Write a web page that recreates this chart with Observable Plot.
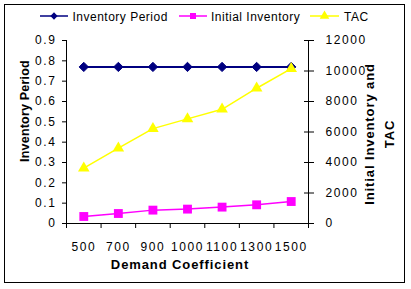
<!DOCTYPE html>
<html>
<head>
<meta charset="utf-8">
<script src="https://cdn.jsdelivr.net/npm/d3@7"></script>
<script src="https://cdn.jsdelivr.net/npm/@observablehq/plot@0.6"></script>
<style>
  html, body { margin: 0; padding: 0; background: #fff; }
  #wrap { position: relative; width: 411px; height: 289px; background: #fff; overflow: hidden;
          font-family: "Liberation Sans", Arial, sans-serif; }
  #border { position: absolute; left: 4px; top: 4px; width: 401px; height: 279px; box-sizing: border-box;
            border: 1px solid #000; }
  .layer { position: absolute; left: 0; top: 0; }
  .layer svg text { letter-spacing: 1.6px; }
  .over { position: absolute; left: 0; top: 0; pointer-events: none; }
</style>
</head>
<body>
<div id="wrap">
  <div id="border"></div>
  <div id="p1" class="layer"></div>
  <div id="p2" class="layer"></div>
  <svg class="over" width="411" height="289" id="over"></svg>
</div>
<script>
// ---- data ----
const categories = ["500", "700", "900", "1000", "1100", "1300", "1500"];
const inventoryPeriod = [0.77, 0.77, 0.77, 0.77, 0.77, 0.77, 0.77];
const initialInventory = [460, 655, 877, 943, 1074, 1225, 1441];
const tac = [3630, 4940, 6220, 6860, 7490, 8870, 10150];
const leftTicks = [0, 0.1, 0.2, 0.3, 0.4, 0.5, 0.6, 0.7, 0.8, 0.9];
const rightTicks = [0, 2000, 4000, 6000, 8000, 10000, 12000];
const seriesNames = ["Inventory Period", "Initial Inventory", "TAC"];

// ---- layout ----
const W = 411, H = 289;
const M = {left: 66, right: W - 308, top: 40, bottom: H - 223};
const idx = categories.map((c, i) => i);
const xDomain = [-0.5, categories.length - 0.5];
const boundaries = [...idx.map(i => i - 0.5), categories.length - 0.5];
const font = '"Liberation Sans", Arial, sans-serif';

const rowsL = idx.map(i => ({i, v: inventoryPeriod[i]}));
const rowsI = idx.map(i => ({i, v: initialInventory[i]}));
const rowsT = idx.map(i => ({i, v: tac[i]}));

const common = {
  width: W, height: H,
  marginLeft: M.left, marginRight: M.right, marginTop: M.top, marginBottom: M.bottom,
  style: {fontSize: "12px", fontFamily: font, background: "transparent", overflow: "visible", color: "#000"}
};

const p1 = Plot.plot({
  ...common,
  x: {type: "linear", domain: xDomain},
  y: {domain: [0, 0.9]},
  marks: [
    Plot.axisY({ticks: leftTicks, tickFormat: d => d === 0 ? "0" : d3.format(".1f")(d), tickSize: 4, tickPadding: 6, label: null}),
    Plot.axisX({ticks: boundaries, tickFormat: () => "", tickSize: 5, label: null}),
    Plot.axisX({ticks: idx, tickFormat: i => categories[i], tickSize: 0, tickPadding: 19, label: null}),
    Plot.ruleX([xDomain[0]], {stroke: "#000"}),
    Plot.ruleY([0], {stroke: "#000"}),
    Plot.line(rowsL, {x: "i", y: "v", stroke: "#000080", strokeWidth: 2}),
    Plot.dot(rowsL, {x: "i", y: "v", symbol: "diamond2", r: 4.2, fill: "#000080", stroke: "#000080", strokeWidth: 1})
  ]
});
document.getElementById("p1").append(p1);

const p2 = Plot.plot({
  ...common,
  x: {type: "linear", domain: xDomain, axis: null},
  y: {domain: [0, 12000], axis: null},
  marks: [
    Plot.axisY({anchor: "right", ticks: rightTicks, tickFormat: d => String(d), tickSize: 5, tickPadding: 12, label: null}),
    Plot.axisY({anchor: "right", ticks: rightTicks, tickFormat: () => "", tickSize: -5, label: null}),
    Plot.ruleX([xDomain[1]], {stroke: "#000"}),
    Plot.line(rowsI, {x: "i", y: "v", stroke: "#FF00FF", strokeWidth: 1.5}),
    Plot.dot(rowsI, {x: "i", y: "v", symbol: "square", r: 5, fill: "#FF00FF", stroke: "none"}),
    Plot.line(rowsT, {x: "i", y: "v", stroke: "#FFFF00", strokeWidth: 1.5}),
    Plot.dot(rowsT, {x: "i", y: "v", symbol: "triangle", r: 4.3, fill: "#FFFF00", stroke: "none"})
  ]
});
document.getElementById("p2").append(p2);

// ---- legend and titles ----
const over = d3.select("#over");
const legend = [
  {name: seriesNames[0], color: "#000080", sym: d3.symbolDiamond2, size: 34, x0: 40, x1: 68, tx: 72.5, lw: 1.5},
  {name: seriesNames[1], color: "#FF00FF", sym: d3.symbolSquare, size: 36, x0: 179, x1: 207, tx: 211, lw: 1.5},
  {name: seriesNames[2], color: "#FFFF00", sym: d3.symbolTriangle, size: 40, x0: 310, x1: 339, tx: 344, lw: 1.5}
];
const ly = 16;
legend.forEach(d => {
  over.append("line").attr("x1", d.x0).attr("x2", d.x1).attr("y1", ly).attr("y2", ly)
    .attr("stroke", d.color).attr("stroke-width", d.lw);
  over.append("path").attr("d", d3.symbol(d.sym, d.size)())
    .attr("transform", `translate(${(d.x0 + d.x1) / 2},${ly})`).attr("fill", d.color);
  over.append("text").attr("x", d.tx).attr("y", ly + 4.5).text(d.name)
    .style("font", `12px ${font}`).style("letter-spacing", "0.5px").attr("fill", "#000");
});

over.append("text").attr("x", 180).attr("y", 269).attr("text-anchor", "middle")
  .text("Demand Coefficient").style("font", `bold 13px ${font}`).style("letter-spacing", "0.9px");
over.append("text").attr("transform", "translate(29,111) rotate(-90)").attr("text-anchor", "middle")
  .text("Inventory Period").style("font", `bold 12.5px ${font}`).style("letter-spacing", "0.2px");
over.append("text").attr("transform", "translate(374,134) rotate(-90)").attr("text-anchor", "middle")
  .text("Initial Inventory and").style("font", `bold 13px ${font}`).style("letter-spacing", "0.9px");
over.append("text").attr("transform", "translate(394,134) rotate(-90)").attr("text-anchor", "middle")
  .text("TAC").style("font", `bold 13px ${font}`).style("letter-spacing", "0.9px");
</script>
</body>
</html>
